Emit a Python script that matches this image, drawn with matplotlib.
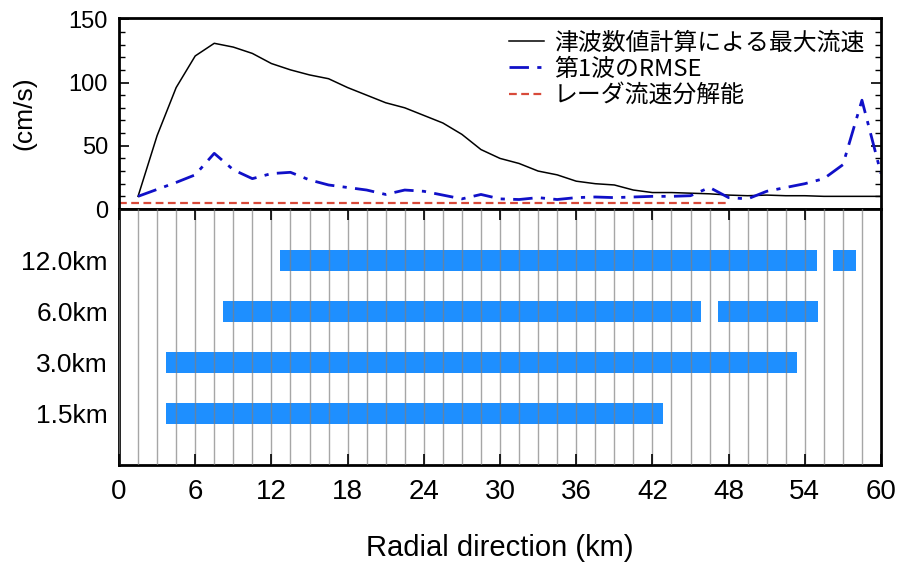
import matplotlib
matplotlib.use("Agg")
import matplotlib.pyplot as plt
from matplotlib.ticker import MultipleLocator

# Data
dist = [1.5, 3, 4.5, 6, 7.5, 9, 10.5, 12, 13.5, 15, 16.5, 18, 19.5, 21, 22.5,
        24, 25.5, 27, 28.5, 30, 31.5, 33, 34.5, 36, 37.5, 39, 40.5, 42, 43.5,
        45, 46.5, 48, 49.5, 51, 52.5, 54, 55.5, 57, 58.5, 60]
max_speed = [10, 58, 96, 121, 131, 128, 123, 115, 110, 106, 103, 96, 90, 84, 80,
             74, 68, 59, 47, 40, 36, 30, 27, 22, 20, 19, 15, 13, 13,
             12.5, 12, 11, 10.5, 11, 10.5, 10.5, 10, 10, 10, 10]
rmse = [10, 15.5, 21, 27, 44, 31, 24, 28, 29, 23, 19, 17, 15, 11.5, 15,
        14, 11, 8, 11.5, 8, 7.5, 9, 7.5, 9, 9.5, 9, 9.5, 10, 10,
        10.5, 17, 9, 8, 14, 17, 20, 24, 35, 86, 28]
radar_x = [0, 48]
radar_res = [4.5, 4.5]

labels = ["津波数値計算による最大流速", "第1波のRMSE", "レーダ流速分解能"]

grid_names = ["1.5km", "3.0km", "6.0km", "12.0km"]
segments = [
    [(3.7, 42.8)],
    [(3.7, 53.4)],
    [(8.2, 45.8), (47.2, 55.0)],
    [(12.7, 55.0), (56.2, 58.0)],
]

plt.rcParams['font.family'] = ['Liberation Sans', 'DejaVu Sans']
jp_font = ['Noto Sans CJK JP', 'DejaVu Sans']

fig = plt.figure(figsize=(9.01, 5.63), dpi=100)
left, right = 119 / 901, 881 / 901
ax1 = fig.add_axes([left, 1 - 209 / 563, right - left, (209 - 18) / 563])
ax2 = fig.add_axes([left, 1 - 465 / 563, right - left, (465 - 209) / 563])

# Top panel: speeds
ax1.plot(dist, max_speed, color='black', lw=1.1, label=labels[0])
ax1.plot(dist, rmse, color='#1010c8', lw=2.0, dashes=(7, 3, 1.5, 3),
         label=labels[1])
ax1.plot(radar_x, radar_res, color='#d84a3a', lw=1.6, dashes=(3.5, 2),
         label=labels[2])
ax1.set_xlim(0, 60)
ax1.set_ylim(0, 151)
ax1.yaxis.set_major_locator(MultipleLocator(50))
ax1.yaxis.set_minor_locator(MultipleLocator(10))
ax1.tick_params(axis='y', which='both', direction='in', left=True, right=True,
                labelsize=17, pad=8)
ax1.tick_params(axis='y', which='major', length=7, width=1.2)
ax1.tick_params(axis='y', which='minor', length=4, width=1.0)
ax1.tick_params(axis='x', which='both', bottom=False, labelbottom=False)
ax1.set_ylabel("(cm/s)", fontsize=19)
ax1.yaxis.set_label_coords(-0.108, 0.5)
leg = ax1.legend(loc='upper right', frameon=False, prop={'family': jp_font, 'size': 17.2},
                 handlelength=1.5, handletextpad=0.4, labelspacing=0.14,
                 borderaxespad=0.2, bbox_to_anchor=(0.997, 1.005))

# Bottom panel: resolution coverage
for i, segs in enumerate(segments):
    for start, end in segs:
        ax2.barh(i + 1, end - start, left=start, height=0.41,
                 color='#1e8fff', zorder=1)
ax2.set_xlim(0, 60)
ax2.set_ylim(0, 5)
ax2.set_yticks(range(1, 5))
ax2.set_yticklabels(grid_names)
ax2.xaxis.set_major_locator(MultipleLocator(6))
ax2.xaxis.set_minor_locator(MultipleLocator(1.5))
ax2.grid(axis='x', which='both', color='#808080', lw=1.0, alpha=0.7, zorder=2)
ax2.set_axisbelow(False)
ax2.tick_params(axis='y', length=0, labelsize=19, pad=8)
ax2.tick_params(axis='x', which='major', direction='in', top=True, bottom=True,
                length=8, width=1.2, labelsize=20, pad=10)
ax2.tick_params(axis='x', which='minor', length=0)
ax2.set_xlabel("Radial direction (km)", fontsize=21, labelpad=21)

for ax in (ax1, ax2):
    for sp in ax.spines.values():
        sp.set_linewidth(2.0)

fig.savefig("out.png", dpi=100)
